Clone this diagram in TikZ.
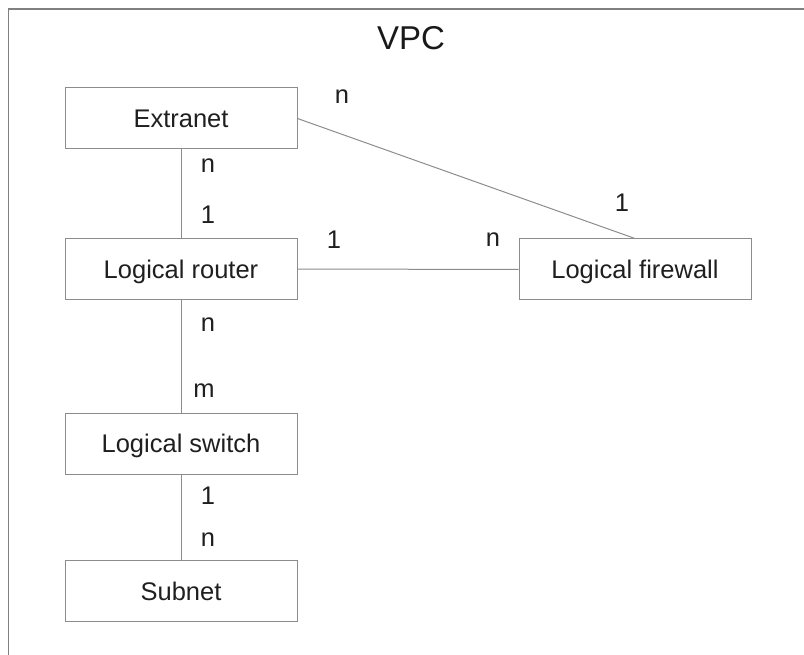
\documentclass[tikz,border=0pt]{standalone}
\usepackage{fontspec}
\setmainfont{Liberation Sans}
\begin{document}
\begin{tikzpicture}[x=1pt,y=-1pt,
  entity/.style={draw=black!45, line width=1pt, minimum width=232pt, minimum height=61pt,
    inner sep=0pt, text height=18.4pt, text depth=0pt,
    font=\fontsize{25.5}{30}\selectfont, text=black!88},
  link/.style={draw=black!45, line width=1pt},
  card/.style={inner sep=0pt, font=\fontsize{25.5}{30}\selectfont, text=black!88},
  frameline/.style={draw=black!50, line width=1.2pt}]
\useasboundingbox (0,0) rectangle (804,655);
% outer container edges
\coordinate (fcorner) at (8.5,9);
\coordinate (ftop) at (804,9);
\coordinate (fbottom) at (8.5,655);
\draw[frameline] (fbottom) -- (fcorner) -- (ftop);
\node[inner sep=0pt, font=\fontsize{33}{38}\selectfont, text=black!90] (title) at (411,38) {VPC};

% entities
\node[entity] (ext) at (181,118.5) {Extranet};
\node[entity] (rtr) at (181,269) {Logical router};
\node[entity] (fw)  at (635,269.5) {Logical firewall};
\node[entity] (sw)  at (181,443.5) {Logical switch};
\node[entity] (sub) at (181,591) {Subnet};

% relations
\draw[link] (ext.south) -- (rtr.north);
\draw[link] (rtr.east) -- (fw.west);
\draw[link] (rtr.south) -- (sw.north);
\draw[link] (sw.south) -- (sub.north);
\draw[link] (ext.east) -- (fw.north);

% cardinalities
\node[card] (c1) at (342,97) {n};
\node[card] (c2) at (622,203) {1};
\node[card] (c3) at (208,166) {n};
\node[card] (c4) at (208,215) {1};
\node[card] (c5) at (334,240) {1};
\node[card] (c6) at (493,240) {n};
\node[card] (c7) at (208,325) {n};
\node[card] (c8) at (204,391) {m};
\node[card] (c9) at (208,496) {1};
\node[card] (c10) at (208,540) {n};
\end{tikzpicture}
\end{document}
